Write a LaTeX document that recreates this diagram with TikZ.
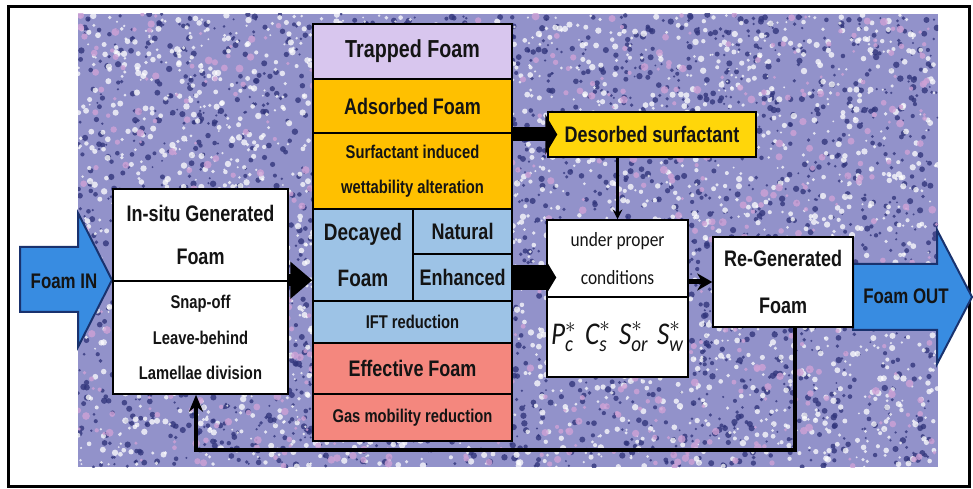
\documentclass[tikz,border=0pt]{standalone}
\usepackage{fontspec}
\usepackage{amsmath}
\setmainfont{Liberation Sans}[FakeStretch=0.8]
\newfontfamily\calib{Carlito}[FakeStretch=0.86]
\usetikzlibrary{arrows.meta}

\definecolor{granite}{RGB}{146,146,202}
\definecolor{speckdark}{RGB}{50,54,124}
\definecolor{speckpink}{RGB}{206,162,214}
\definecolor{trapped}{RGB}{216,198,238}
\definecolor{adsorbed}{RGB}{255,192,0}
\definecolor{desorbed}{RGB}{255,214,10}
\definecolor{decayed}{RGB}{157,195,230}
\definecolor{effective}{RGB}{244,135,126}
\definecolor{flowblue}{RGB}{56,140,225}
\definecolor{flowedge}{RGB}{25,50,110}
\definecolor{ink}{RGB}{20,20,20}

% italic letters for the parameter list
\newcommand{\ci}[1]{\text{\calib\itshape #1}}

\begin{document}
\begin{tikzpicture}[x=0.2mm, y=-0.2mm, >=stealth, text=ink,
  box/.style={draw=black, line width=0.3mm, inner sep=0pt, align=center,
    font=\bfseries\fontsize{12.8}{24}\selectfont},
  small/.style={font=\bfseries\fontsize{10.5}{20}\selectfont},
  flow/.style={draw=flowedge, fill=flowblue, line width=0.4mm, line join=miter},
  flowtext/.style={font=\bfseries\fontsize{12}{14}\selectfont},
  fat/.style={line width=2.8mm, -{Triangle[length=2.4mm, width=8mm]}}]

  % page and frame
  \useasboundingbox[fill=white] (0,0) rectangle (973,489);
  \draw[line width=0.6mm] (8,7) rectangle (969,486);

  % speckled backdrop
  \begin{scope}
    \clip (78,14) rectangle (938,467);
    \fill[granite] (78,14) rectangle (938,467);
    \pgfmathsetseed{42}
    \foreach \i in {1,...,2600}
      \fill[speckdark, opacity=0.8] (78+860*rnd, 14+453*rnd) circle[radius=0.2mm+0.45mm*rnd];
    \foreach \i in {1,...,2600}
      \fill[white, opacity=0.75] (78+860*rnd, 14+453*rnd) circle[radius=0.2mm+0.45mm*rnd];
    \foreach \i in {1,...,700}
      \fill[speckpink, opacity=0.8] (78+860*rnd, 14+453*rnd) circle[radius=0.3mm+0.5mm*rnd];
  \end{scope}

  % Foam in / out
  \draw[flow] (20,247) -- (78,247) -- (78,213) -- (112,280) -- (78,347) -- (78,312) -- (20,312) -- cycle;
  \node[flowtext] (foamin) at (64,281) {Foam IN};
  \draw[flow] (853,264) -- (937,264) -- (937,230) -- (972,297) -- (937,364) -- (937,330) -- (853,330) -- cycle;
  \node[flowtext] (foamout) at (906,296) {Foam OUT};

  % generation box on the left
  \node[box, fill=white, minimum width=35mm, minimum height=18.4mm] (insitu) at (200.5,235)
    {In-situ Generated\\Foam};
  \node[box, small, fill=white, minimum width=35mm, minimum height=22.6mm] (mech) at (200.5,337.5)
    {Snap-off\\Leave-behind\\Lamellae division};

  % central column
  \node[box, fill=trapped, minimum width=39.8mm, minimum height=11mm,
    font=\bfseries\fontsize{14}{16}\selectfont] (trap) at (412.5,51.5) {Trapped Foam};
  \node[box, fill=adsorbed, minimum width=39.8mm, minimum height=10.8mm] (adsorb) at (412.5,106) {Adsorbed Foam};
  \node[box, small, fill=adsorbed, minimum width=39.8mm, minimum height=15.2mm] (wett) at (412.5,171)
    {Surfactant induced\\wettability alteration};
  \node[box, fill=decayed, minimum width=20mm, minimum height=18.4mm,
    font=\bfseries\fontsize{13.5}{26}\selectfont] (decay) at (363,255) {Decayed\\Foam};
  \node[box, fill=decayed, minimum width=19.8mm, minimum height=9mm] (natural) at (462.5,231.5) {Natural};
  \node[box, fill=decayed, minimum width=19.8mm, minimum height=9.4mm] (enhance) at (462.5,277.5) {Enhanced};
  \node[box, small, fill=decayed, minimum width=39.8mm, minimum height=8.4mm] (ift) at (412.5,322) {IFT reduction};
  \node[box, fill=effective, minimum width=39.8mm, minimum height=10.2mm] (effect) at (412.5,368.5) {Effective Foam};
  \node[box, small, fill=effective, minimum width=39.8mm, minimum height=9.4mm] (gasmob) at (412.5,417.5)
    {Gas mobility reduction};

  % desorption and conditions
  \node[box, fill=desorbed, minimum width=41.6mm, minimum height=9mm] (desorb) at (652,134.5) {Desorbed surfactant};
  \node[box, fill=white, minimum width=28.2mm, minimum height=15.4mm,
    font=\calib\fontsize{11.5}{21.5}\selectfont] (cond) at (617.5,258.5) {under proper\\conditions};
  \node[box, fill=white, minimum width=28.2mm, minimum height=16mm,
    font=\calib\fontsize{18}{18}\selectfont] (params) at (617.5,337)
    {$\ci{P}^{*}_{\ci{c}}\;\ci{C}^{*}_{\ci{s}}\;\ci{S}^{*}_{\ci{or}}\;\ci{S}^{*}_{\ci{w}}$};

  % regenerated foam
  \node[box, fill=white, minimum width=28mm, minimum height=18mm,
    font=\bfseries\fontsize{12.8}{26.5}\selectfont] (regen) at (783,282) {Re-Generated\\Foam};

  % block arrows between the boxes
  \draw[line width=2.4mm, -{Triangle[length=4.4mm, width=7.2mm]}] (mech.north east) -- (decay.west |- mech.north east);
  \draw[fat, shorten >=-2mm] (adsorb.east |- desorb.west) -- (desorb.west);
  \draw[line width=5mm, -{Triangle[length=2mm, width=6.6mm]}, shorten >=-2mm] (enhance.east) -- (enhance.east -| cond.west);

  % thin arrows
  \draw[line width=0.5mm, ->] (cond.north |- desorb.south) -- (cond.north);
  \draw[line width=1mm, -{Stealth[length=3mm, width=3.4mm]}] (cond.east |- regen.west) -- (regen.west);

  % loop back to generation
  \coordinate (loop) at (500,450);
  \draw[line width=0.9mm, -{Stealth[length=3.4mm, width=2.8mm]}]
    ([xshift=2.4mm]regen.south) |- (loop) -| ([xshift=-0.9mm]mech.south);
\end{tikzpicture}
\end{document}
